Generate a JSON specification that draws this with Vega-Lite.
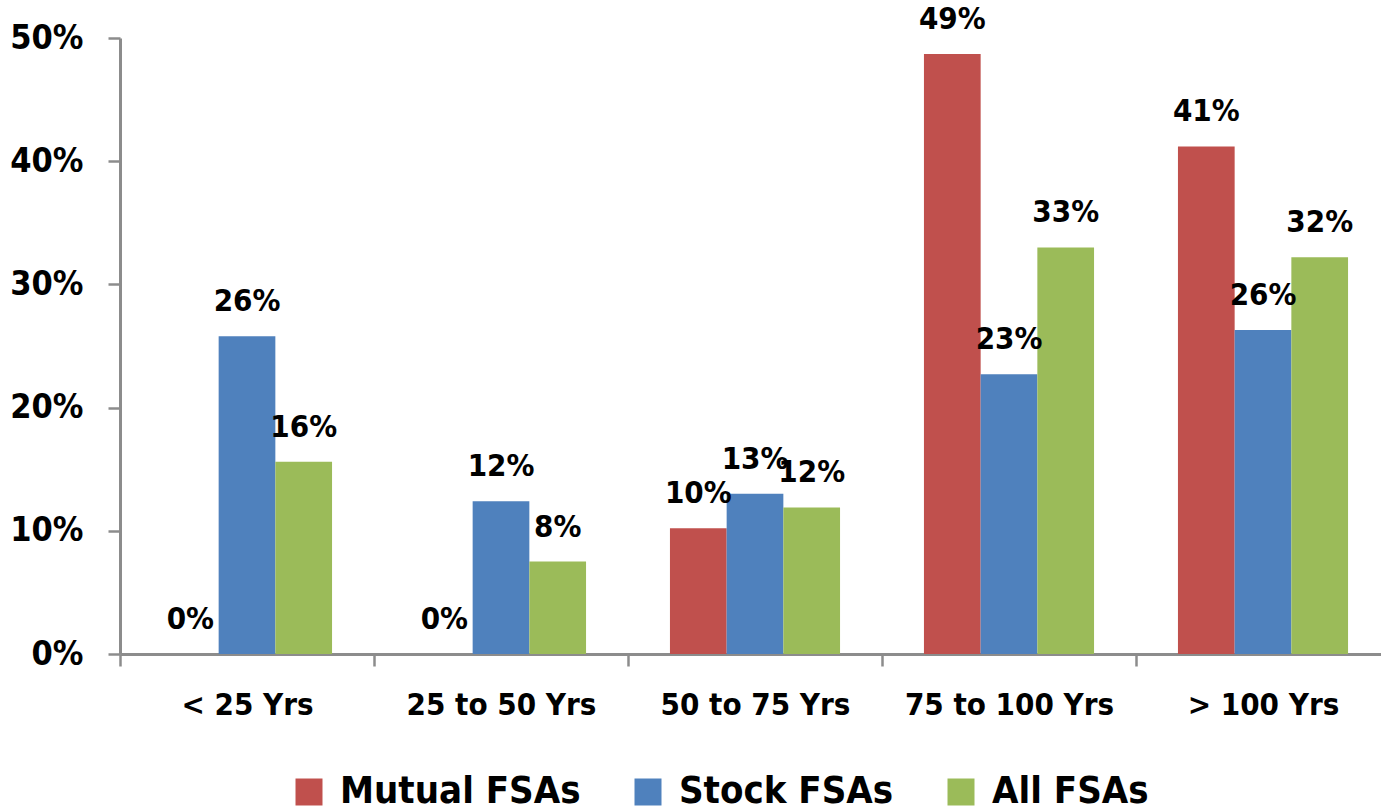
{
  "$schema": "https://vega.github.io/schema/vega-lite/v6.json",
  "autosize": {"type": "none"},
  "width": 1270,
  "height": 616,
  "padding": {"left": 120, "top": 38, "right": 0, "bottom": 157},
  "background": "white",
  "config": {
    "view": {"stroke": null},
    "font": "DejaVu Sans Condensed"
  },
  "data": {
    "values": [
      {"Age": "< 25 Yrs", "Type": "Mutual FSAs", "Value": 0.0},
      {"Age": "< 25 Yrs", "Type": "Stock FSAs", "Value": 0.258},
      {"Age": "< 25 Yrs", "Type": "All FSAs", "Value": 0.156},
      {"Age": "25 to 50 Yrs", "Type": "Mutual FSAs", "Value": 0.0},
      {"Age": "25 to 50 Yrs", "Type": "Stock FSAs", "Value": 0.124},
      {"Age": "25 to 50 Yrs", "Type": "All FSAs", "Value": 0.075},
      {"Age": "50 to 75 Yrs", "Type": "Mutual FSAs", "Value": 0.102},
      {"Age": "50 to 75 Yrs", "Type": "Stock FSAs", "Value": 0.13},
      {"Age": "50 to 75 Yrs", "Type": "All FSAs", "Value": 0.119},
      {"Age": "75 to 100 Yrs", "Type": "Mutual FSAs", "Value": 0.487},
      {"Age": "75 to 100 Yrs", "Type": "Stock FSAs", "Value": 0.227},
      {"Age": "75 to 100 Yrs", "Type": "All FSAs", "Value": 0.33},
      {"Age": "> 100 Yrs", "Type": "Mutual FSAs", "Value": 0.412},
      {"Age": "> 100 Yrs", "Type": "Stock FSAs", "Value": 0.263},
      {"Age": "> 100 Yrs", "Type": "All FSAs", "Value": 0.322}
    ]
  },
  "encoding": {
    "x": {
      "field": "Age", "type": "nominal", "sort": null,
      "scale": {"paddingInner": 0, "paddingOuter": 0},
      "axis": {
        "title": null, "labelAngle": 0, "labelFontSize": 31, "labelFontWeight": "bold", "labelLimit": 0,
        "labelColor": "black", "labelPadding": 24, "tickBand": "extent", "tickSize": 12,
        "tickWidth": 2.5, "tickColor": "#8c8c8c", "domainColor": "#8c8c8c", "domainWidth": 3
      }
    },
    "xOffset": {
      "field": "Type", "type": "nominal", "sort": ["Mutual FSAs", "Stock FSAs", "All FSAs"],
      "scale": {"paddingInner": 0, "paddingOuter": 0.74}
    },
    "y": {
      "field": "Value", "type": "quantitative",
      "scale": {"domain": [0, 0.5], "nice": false},
      "axis": {
        "title": null, "values": [0, 0.1, 0.2, 0.3, 0.4, 0.5], "format": ".0%", "grid": false,
        "labelFontSize": 34, "labelFontWeight": "bold", "labelColor": "black", "labelPadding": 25,
        "tickSize": 12, "tickWidth": 2.5, "tickColor": "#8c8c8c", "domainColor": "#8c8c8c", "domainWidth": 3
      }
    }
  },
  "layer": [
    {
      "mark": {"type": "bar"},
      "encoding": {
        "color": {
          "field": "Type", "type": "nominal",
          "sort": ["Mutual FSAs", "Stock FSAs", "All FSAs"],
          "scale": {"domain": ["Mutual FSAs", "Stock FSAs", "All FSAs"], "range": ["#C0504D", "#4F81BD", "#9BBB59"]},
          "legend": {
            "title": null, "orient": "none", "direction": "horizontal", "legendX": 170, "legendY": 735,
            "symbolType": "square", "symbolSize": 729, "symbolStrokeWidth": 0, "symbolOpacity": 1,
            "labelFontSize": 38, "labelFontWeight": "bold", "labelColor": "black", "labelOffset": 12,
            "labelLimit": 0, "columnPadding": 48, "padding": 0
          }
        }
      }
    },
    {
      "mark": {"type": "text", "fontSize": 31, "fontWeight": "bold", "color": "black", "baseline": "middle", "dy": -34},
      "encoding": {
        "text": {"field": "Value", "type": "quantitative", "format": ".0%"}
      }
    }
  ]
}
